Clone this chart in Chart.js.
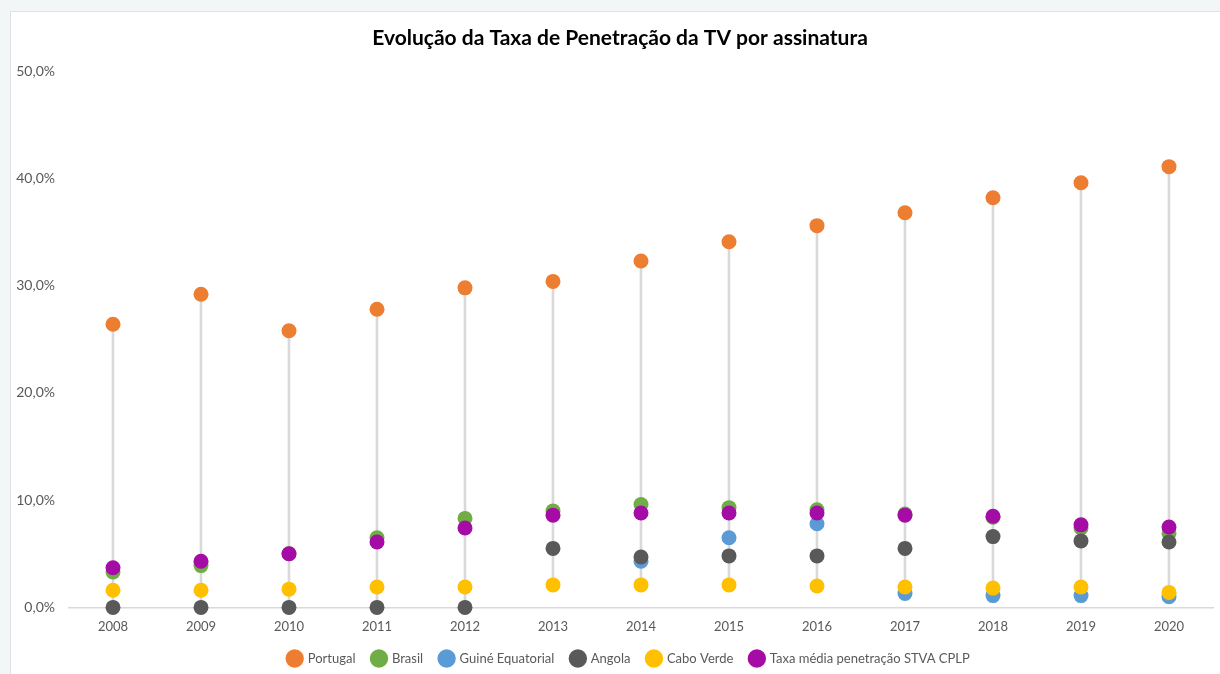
<!DOCTYPE HTML>
<html>
<head>
  <title>Evolução da Taxa de Penetração da TV por assinatura</title>
  <meta charset="utf-8" />
  <script src="https://cdn.jsdelivr.net/npm/chart.js@4.4.1/dist/chart.umd.min.js"></script>
  <style type="text/css">
    body { margin: 0; background: #f3f6f7; }
    #panel { position: absolute; left: 10px; top: 11px; width: 1210px; height: 663px; background: #fff; border-left: 1px solid #dde2e4; border-top: 1px solid #dde2e4; }
  </style>
</head>
<body>
<div id="panel"><canvas id="chart"></canvas></div>

<script>
  var years = ["2008","2009","2010","2011","2012","2013","2014","2015","2016","2017","2018","2019","2020"];
  var portugal = [26.4, 29.2, 25.8, 27.8, 29.8, 30.4, 32.3, 34.1, 35.6, 36.8, 38.2, 39.6, 41.1];
  var brasil = [3.3, 3.9, 5.0, 6.5, 8.3, 9.0, 9.6, 9.3, 9.1, 8.7, 8.4, 7.4, 6.9];
  var guine = [null, null, null, null, null, null, 4.3, 6.5, 7.8, 1.3, 1.1, 1.1, 1.0];
  var angola = [0, 0, 0, 0, 0, 5.5, 4.7, 4.8, 4.8, 5.5, 6.6, 6.2, 6.1];
  var caboVerde = [1.6, 1.6, 1.7, 1.9, 1.9, 2.1, 2.1, 2.1, 2.0, 1.9, 1.8, 1.9, 1.4];
  var mediaCplp = [3.7, 4.3, 5.0, 6.1, 7.4, 8.6, 8.8, 8.8, 8.8, 8.6, 8.5, 7.7, 7.5];
  var yTicks = [0, 10, 20, 30, 40, 50];

  var series = [
    { label: "Portugal", data: portugal, color: "#ed7d31" },
    { label: "Brasil", data: brasil, color: "#70ad47" },
    { label: "Guiné Equatorial", data: guine, color: "#5b9bd5" },
    { label: "Angola", data: angola, color: "#595959" },
    { label: "Cabo Verde", data: caboVerde, color: "#ffc000" },
    { label: "Taxa média penetração STVA CPLP", data: mediaCplp, color: "#a50ba5" }
  ];

  // high-low lines: span of all series in each year
  var hiLo = years.map(function(y, i) {
    var vals = series.map(function(s) { return s.data[i]; }).filter(function(v) { return v !== null; });
    return [Math.min.apply(null, vals), Math.max.apply(null, vals)];
  });

  var datasets = series.map(function(s, k) {
    return {
      type: 'line',
      label: s.label,
      data: s.data,
      showLine: false,
      clip: false,
      pointRadius: 7.5,
      pointHoverRadius: 7.5,
      pointBorderWidth: 0,
      backgroundColor: s.color,
      borderColor: s.color,
      pointStyle: 'circle',
      order: series.length - k
    };
  });
  datasets.push({
    type: 'bar',
    label: 'hilo',
    data: hiLo,
    backgroundColor: '#d9d9d9',
    barThickness: 2,
    order: 20
  });

  // nudge title and legend a bit to the right, as in the original
  var shiftBlocks = {
    id: 'shiftBlocks',
    afterLayout: function(chart) {
      chart.titleBlock.left += 8; chart.titleBlock.right += 8;
      chart.legend.left += 17; chart.legend.right += 17;
    }
  };

  var fontFam = "Lato, 'Open Sans', sans-serif";
  new Chart(document.getElementById("chart"), {
    type: 'bar',
    data: { labels: years, datasets: datasets },
    plugins: [shiftBlocks],
    options: {
      responsive: true,
      maintainAspectRatio: false,
      animation: false,
      layout: { padding: { left: 0, right: 8, top: 14, bottom: 0 } },
      plugins: {
        title: {
          display: true,
          text: "Evolução da Taxa de Penetração da TV por assinatura",
          color: '#000',
          font: { family: fontFam, size: 21, weight: 'bold' },
          padding: { top: 0, bottom: 20 }
        },
        legend: {
          position: 'bottom',
          labels: {
            usePointStyle: true,
            pointStyle: 'circle',
            boxWidth: 13,
            boxHeight: 13,
            padding: 17,
            color: '#595959',
            font: { family: fontFam, size: 13 },
            filter: function(item) { return item.text !== 'hilo'; },
            sort: function(a, b) { return a.datasetIndex - b.datasetIndex; }
          }
        },
        tooltip: { enabled: false }
      },
      scales: {
        x: {
          grid: { display: false, drawTicks: false },
          border: { color: '#d9d9d9', width: 1.5 },
          ticks: { color: '#595959', font: { family: fontFam, size: 13 }, padding: 12 },
          afterFit: function(axis) { axis.height -= 12; }
        },
        y: {
          min: 0,
          max: 50,
          afterBuildTicks: function(axis) { axis.ticks = yTicks.map(function(v) { return { value: v }; }); },
          afterFit: function(axis) { axis.width = 58; },
          grid: { display: false, drawTicks: false },
          border: { display: false },
          ticks: {
            color: '#595959',
            font: { family: fontFam, size: 14 },
            padding: 14,
            callback: function(v) { return v.toFixed(1).replace('.', ',') + '%'; }
          }
        }
      }
    }
  });
</script>
</body>
</html>
